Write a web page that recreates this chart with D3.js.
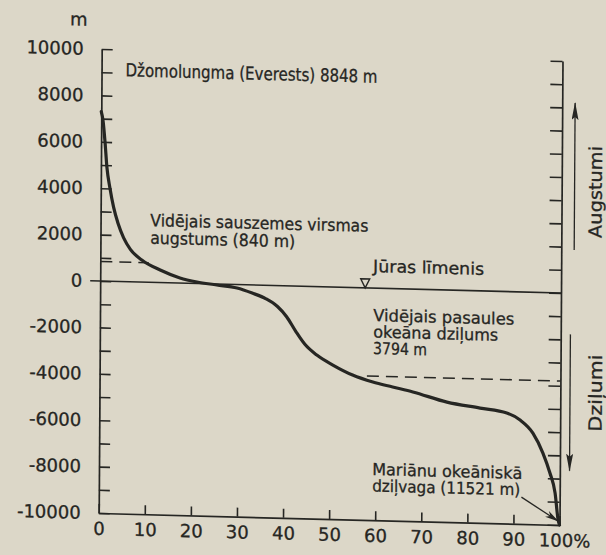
<!DOCTYPE html>
<html><head><meta charset="utf-8">
<script src="https://cdn.jsdelivr.net/npm/d3@7"></script>
<style>
html,body{margin:0;padding:0;background:#dcd7c8;}
svg{display:block;}
text{font-family:"DejaVu Sans",sans-serif;fill:#262623;stroke:#262623;stroke-width:0.3px;}
</style></head><body>
<svg id="chart" width="606" height="555"></svg>
<script>
// Hypsographic curve: cumulative share of Earth's surface (%) vs. elevation (m)
const areaPercent = [0, 0.4, 0.85, 1.3, 2.0, 2.8, 3.8, 5, 6.5, 9, 13, 17.3, 21, 25.3, 29.7, 33, 36, 38.5, 40.5, 42.5, 44.5, 47.1, 50.6, 54.9, 59.3, 63.6, 68, 75.4, 82.6, 88.4, 91.3, 94.1, 96.3, 97.85, 99, 99.7, 100];
const elevation = [7300, 6900, 6000, 4900, 4000, 3200, 2500, 1900, 1400, 950, 540, 220, 65, -40, -150, -350, -580, -900, -1330, -1950, -2500, -2950, -3360, -3770, -4050, -4240, -4430, -4830, -5050, -5230, -5520, -6070, -6920, -7770, -8630, -9790, -10000];

const xTickValues = [0, 10, 20, 30, 40, 50, 60, 70, 80, 90, 100];
const xTickLabels = ["0", "10", "20", "30", "40", "50", "60", "70", "80", "90", "100%"];
const yMinorTicks = [-10000,-9000,-8000,-7000,-6000,-5000,-4000,-3000,-2000,-1000,0,1000,2000,3000,4000,5000,6000,7000,8000,9000,10000];
const yLabelValues = [-10000, -8000, -6000, -4000, -2000, 0, 2000, 4000, 6000, 8000, 10000];
const yLabels = ["-10000", "-8000", "-6000", "-4000", "-2000", "0", "2000", "4000", "6000", "8000", "10000"];
const yUnit = "m";

const everestHeight = 8848;
const meanLandHeight = 840;
const meanOceanDepth = -3794;
const marianaDepth = 11521;

const everestLabel = ["Džomolungma (Everests) 8848 m"];
const landLabel = ["Vidējais sauszemes virsmas", "augstums (840 m)"];
const seaLabel = ["Jūras līmenis"];
const oceanLabel = ["Vidējais pasaules", "okeāna dziļums", "3794 m"];
const trenchLabel = ["Mariānu okeāniskā", "dziļvaga (11521 m)"];
const sideLabels = ["Augstumi", "Dziļumi"];

const ink = "#262623";
const svg = d3.select("#chart");
const g = svg.append("g").attr("transform", "matrix(1,0.02604,-0.006466,1,2.017,-2.604)");

const x = d3.scaleLinear().domain([0, 100]).range([100, 560.8]);
const y = d3.scaleLinear().domain([-10000, 10000]).range([513, 49]);

// markers
const defs = svg.append("defs");
defs.append("marker").attr("id", "head").attr("markerUnits", "userSpaceOnUse")
  .attr("viewBox", "0 0 18 7").attr("refX", 17).attr("refY", 3.5)
  .attr("markerWidth", 18).attr("markerHeight", 7).attr("orient", "auto")
  .append("path").attr("d", "M0,0 L18,3.5 L0,7 L3,3.5 Z").attr("fill", ink);
defs.append("marker").attr("id", "head2").attr("markerUnits", "userSpaceOnUse")
  .attr("viewBox", "0 0 14 7").attr("refX", 13).attr("refY", 3.5)
  .attr("markerWidth", 14).attr("markerHeight", 7).attr("orient", "auto")
  .append("path").attr("d", "M0,0 L14,3.5 L0,7 L4,3.5 Z").attr("fill", ink);

function styleAxis(sel) {
  sel.attr("color", ink).attr("font-family", null).attr("font-size", null);
  sel.selectAll("path.domain").attr("stroke-width", 1.7);
  sel.selectAll(".tick line").attr("stroke-width", 1.6);
}

// left axis (ticks pointing inward)
const yLabelMap = new Map(yLabelValues.map((v, i) => [v, yLabels[i]]));
const leftAxis = g.append("g").attr("transform", `translate(${x(0)},0)`)
  .call(d3.axisLeft(y).tickValues(yMinorTicks).tickSizeInner(-11).tickSizeOuter(0).tickPadding(18)
    .tickFormat(d => yLabelMap.get(d) || ""));
styleAxis(leftAxis);
leftAxis.selectAll(".tick text").style("font-size", "18px").attr("fill", ink);

// right axis
const rightAxis = g.append("g").attr("transform", `translate(${x(100)},0)`)
  .call(d3.axisRight(y).tickValues(yMinorTicks).tickSizeInner(-12).tickSizeOuter(0).tickFormat(""));
styleAxis(rightAxis);

// bottom axis
const bottomAxis = g.append("g").attr("transform", `translate(0,${y(-10000)})`)
  .call(d3.axisBottom(x).tickValues(xTickValues).tickSizeInner(-9).tickSizeOuter(0).tickPadding(9)
    .tickFormat((d, i) => xTickLabels[i]));
styleAxis(bottomAxis);
bottomAxis.selectAll(".tick text").style("font-size", "18px").attr("fill", ink)
  .filter((d, i) => i === xTickLabels.length - 1).attr("text-anchor", "start").attr("dx", -21);

// unit
g.append("text").attr("x", x(0) - 23).attr("y", y(10000) - 23).attr("text-anchor", "middle")
  .style("font-size", "18px").text(yUnit);

// sea level line
g.append("line").attr("x1", x(0) - 10).attr("x2", x(100)).attr("y1", y(0)).attr("y2", y(0))
  .attr("stroke", ink).attr("stroke-width", 1.6);

// sea level marker (open triangle)
const triX = x(57.5), triY = y(0);
g.append("path").attr("d", `M${triX - 4.5},${triY - 9} L${triX + 4.5},${triY - 9} L${triX},${triY} Z`)
  .attr("fill", "none").attr("stroke", ink).attr("stroke-width", 1.4);

// dashed mean lines
g.append("line").attr("x1", x(0)).attr("x2", x(10.5)).attr("y1", y(meanLandHeight)).attr("y2", y(meanLandHeight))
  .attr("stroke", ink).attr("stroke-width", 1.6).attr("stroke-dasharray", "12,7");
g.append("line").attr("x1", x(58)).attr("x2", x(100)).attr("y1", y(meanOceanDepth)).attr("y2", y(meanOceanDepth))
  .attr("stroke", ink).attr("stroke-width", 1.6).attr("stroke-dasharray", "12,7");

// hypsographic curve
const line = d3.line().x((d, i) => x(areaPercent[i])).y((d, i) => y(elevation[i])).curve(d3.curveMonotoneX);
g.append("path").datum(elevation).attr("d", line).attr("fill", "none")
  .attr("stroke", ink).attr("stroke-width", 3.2).attr("stroke-linecap", "round");

// annotations
function block(lines, u, v, lens, step, size) {
  lines.forEach((t, i) => {
    g.append("text").attr("x", x(u)).attr("y", y(v) + i * step)
      .style("font-size", size + "px").attr("textLength", lens[i]).attr("lengthAdjust", "spacingAndGlyphs").text(t);
  });
}
block(everestLabel, 5.2, 8850, [252], 0, 18);
block(landLabel, 10.8, 2420, [218, 145], 17.5, 17);
block(seaLabel, 59.2, 694, [111], 0, 17);
block(oceanLabel, 59.3, -1420, [141, 125, 54], 16.5, 16.5);
block(trenchLabel, 59.3, -8056, [150, 148], 16.5, 16.5);

// trench arrow
g.append("line").attr("x1", x(91.7)).attr("y1", y(-8840)).attr("x2", x(99.65)).attr("y2", y(-9832))
  .attr("stroke", ink).attr("stroke-width", 1.3).attr("marker-end", "url(#head2)");

// side arrows and labels
g.append("line").attr("x1", x(102.8)).attr("y1", y(1866)).attr("x2", x(102.8)).attr("y2", y(8200))
  .attr("stroke", ink).attr("stroke-width", 1.3).attr("marker-end", "url(#head)");
g.append("line").attr("x1", x(102.1)).attr("y1", y(-1772)).attr("x2", x(102.1)).attr("y2", y(-7650))
  .attr("stroke", ink).attr("stroke-width", 1.3).attr("marker-end", "url(#head)");

[[sideLabels[0], 107.3, 4392, 92], [sideLabels[1], 107.6, -4272, 77]].forEach(([t, u, v, len]) => {
  g.append("text").attr("transform", `translate(${x(u)},${y(v)}) rotate(-90)`)
    .attr("text-anchor", "middle").attr("dy", "0.36em").style("font-size", "18px")
    .attr("textLength", len).attr("lengthAdjust", "spacingAndGlyphs").text(t);
});
</script>
</body></html>
